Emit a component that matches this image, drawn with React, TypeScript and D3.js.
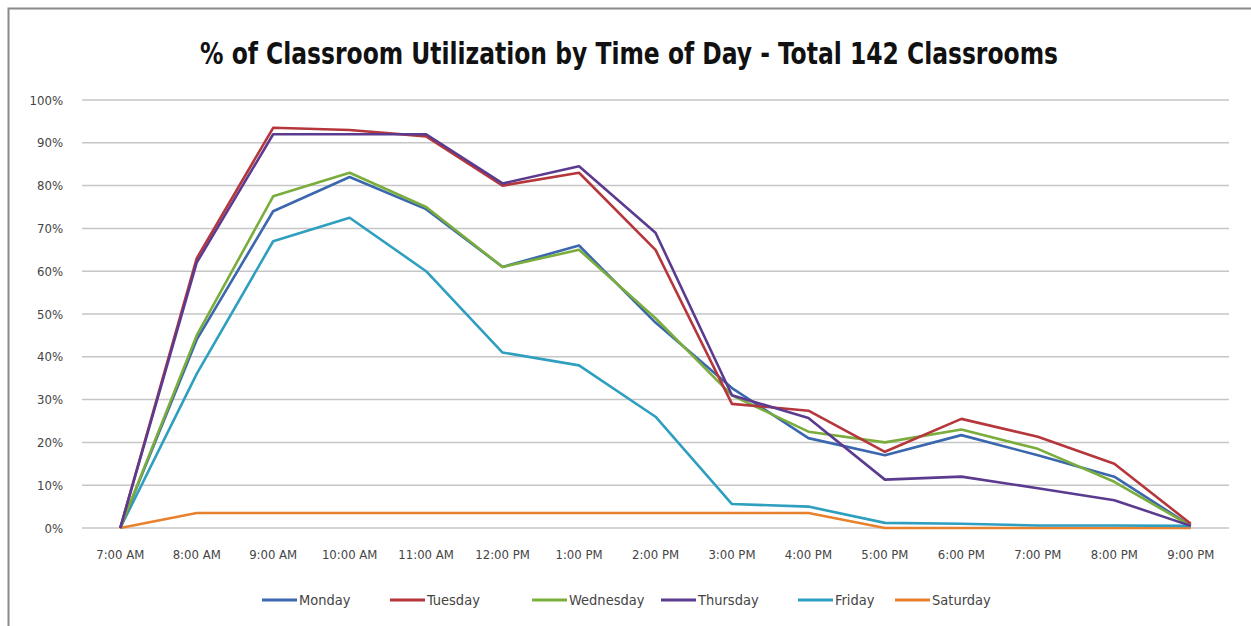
import { useEffect, useRef } from 'react'
import * as d3 from 'd3'

const times = [
	'7:00 AM', '8:00 AM', '9:00 AM', '10:00 AM', '11:00 AM', '12:00 PM', '1:00 PM',
	'2:00 PM', '3:00 PM', '4:00 PM', '5:00 PM', '6:00 PM', '7:00 PM', '8:00 PM', '9:00 PM',
]

const monday = [0, 44, 74, 82, 74.5, 61, 66, 48, 32.7, 21, 17, 21.7, 17, 12, 0.5]
const tuesday = [0, 63, 93.5, 93, 91.5, 80, 83, 65, 29, 27.4, 17.8, 25.5, 21.3, 15, 1]
const wednesday = [0, 45, 77.5, 83, 75, 61, 65, 49, 31, 22.5, 20, 23, 18.5, 10.8, 0.5]
const thursday = [0, 62, 92, 92, 92, 80.5, 84.5, 69, 31, 25.7, 11.3, 12, 9.3, 6.5, 0.5]
const friday = [0, 36, 67, 72.5, 60, 41, 38, 26, 5.6, 5, 1.2, 1, 0.6, 0.6, 0.5]
const saturday = [0, 3.5, 3.5, 3.5, 3.5, 3.5, 3.5, 3.5, 3.5, 3.5, 0, 0, 0, 0, 0]

const seriesNames = ['Monday', 'Tuesday', 'Wednesday', 'Thursday', 'Friday', 'Saturday']
const seriesValues = [monday, tuesday, wednesday, thursday, friday, saturday]
const seriesColors = ['#3a67ad', '#b5363b', '#7aad3c', '#5b3b8f', '#2f9fbf', '#e8812d']

const yTicks = [0, 10, 20, 30, 40, 50, 60, 70, 80, 90, 100]

const W = 1251
const H = 626
const margins = { top: 100, right: 22, bottom: 98, left: 82 }
const narrow = "'DejaVu Sans Condensed', 'Liberation Sans Narrow', sans-serif"

export default function App() {
	const ref = useRef<SVGSVGElement>(null)

	useEffect(() => {
		const svg = d3.select(ref.current)
		svg.selectAll('*').remove()

		const x = d3
			.scalePoint<string>()
			.domain(times)
			.range([margins.left, W - margins.right])
			.padding(0.5)
		const y = d3
			.scaleLinear()
			.domain([0, 100])
			.range([H - margins.bottom, margins.top])

		// frame
		svg.append('rect').attr('width', W).attr('height', H).attr('fill', '#fff')
		svg
			.append('path')
			.attr('d', `M8.5,${H} V8.5 H${W}`)
			.attr('fill', 'none')
			.attr('stroke', '#8a8a8a')
			.attr('stroke-width', 2)

		// title
		svg
			.append('text')
			.attr('x', 629)
			.attr('y', 64)
			.attr('text-anchor', 'middle')
			.attr('textLength', 858)
			.attr('lengthAdjust', 'spacingAndGlyphs')
			.style('font-family', narrow)
			.style('font-weight', 'bold')
			.style('font-size', '31px')
			.attr('fill', '#111')
			.text('% of Classroom Utilization by Time of Day - Total 142 Classrooms')

		// gridlines
		svg
			.append('g')
			.selectAll('line')
			.data(yTicks)
			.enter()
			.append('line')
			.attr('x1', margins.left)
			.attr('x2', W - margins.right)
			.attr('y1', (d) => y(d))
			.attr('y2', (d) => y(d))
			.attr('stroke', '#c6c6c6')
			.attr('stroke-width', 1.5)

		// y labels
		svg
			.append('g')
			.selectAll('text')
			.data(yTicks)
			.enter()
			.append('text')
			.attr('x', 63)
			.attr('y', (d) => y(d) + 4.5)
			.attr('text-anchor', 'end')
			.style('font-family', narrow)
			.style('font-size', '13px')
			.attr('fill', '#444')
			.text((d) => d + '%')

		// x labels
		svg
			.append('g')
			.selectAll('text')
			.data(times)
			.enter()
			.append('text')
			.attr('x', (d) => x(d) as number)
			.attr('y', 559)
			.attr('text-anchor', 'middle')
			.style('font-family', narrow)
			.style('font-size', '13px')
			.attr('fill', '#444')
			.text((d) => d)

		const line = d3
			.line<number>()
			.x((_, i) => x(times[i]) as number)
			.y((d) => y(d))

		// draw series, Saturday first so it sits underneath
		const order = [5, 4, 0, 2, 1, 3]
		order.forEach((k) => {
			svg
				.append('path')
				.datum(seriesValues[k])
				.attr('d', line)
				.attr('fill', 'none')
				.attr('stroke', seriesColors[k])
				.attr('stroke-width', 2.6)
				.attr('stroke-linejoin', 'round')
		})

		// legend
		const legendX = [262, 390, 532, 661, 798, 895]
		const legend = svg
			.append('g')
			.selectAll('g')
			.data(seriesNames)
			.enter()
			.append('g')
			.attr('transform', (_, i) => `translate(${legendX[i]},600)`)
		legend
			.append('line')
			.attr('x1', 0)
			.attr('x2', 35)
			.attr('stroke', (_, i) => seriesColors[i])
			.attr('stroke-width', 3)
		legend
			.append('text')
			.attr('x', 37)
			.attr('y', 5)
			.style('font-family', narrow)
			.style('font-size', '14.5px')
			.attr('fill', '#444')
			.text((d) => d)
	}, [])

	return (
		<svg
			ref={ref}
			width={W}
			height={H}
			style={{ position: 'absolute', left: 0, top: 0 }}
		/>
	)
}
